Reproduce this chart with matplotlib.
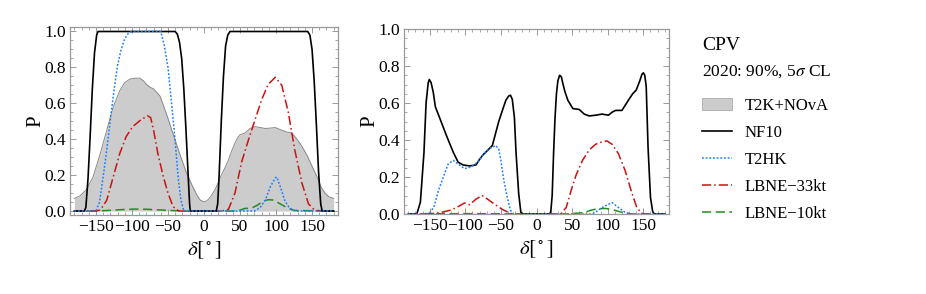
import numpy as np
import matplotlib
matplotlib.use("Agg")
import matplotlib.pyplot as plt
from matplotlib.lines import Line2D
from matplotlib.patches import Patch
from matplotlib.ticker import MultipleLocator

plt.rcParams['font.family'] = ['Liberation Serif', 'DejaVu Serif']
plt.rcParams['mathtext.fontset'] = 'stix'

# ---- panel 1 (2020: 90% CL) ----
gray_d = [-180, -172, -163, -154, -144, -135, -126, -117, -110, -103, -95, -89, -84, -80, -75, -70,
          -61, -52, -43, -33, -24, -15, -10, -5, 0, 3, 6, 10, 15, 20, 24, 29, 34, 38, 43, 47, 50,
          57, 64, 71, 78, 85, 92, 99, 108, 115, 122, 129, 136, 143, 150, 157, 163, 168, 173, 180]
gray_p = [0.07, 0.085, 0.12, 0.19, 0.32, 0.45, 0.58, 0.67, 0.715, 0.735, 0.74, 0.74, 0.725, 0.705, 0.69, 0.68,
          0.64, 0.54, 0.43, 0.31, 0.21, 0.13, 0.09, 0.06, 0.052, 0.055, 0.065, 0.085, 0.117, 0.16, 0.20, 0.24, 0.285, 0.33, 0.38, 0.41, 0.425,
          0.435, 0.46, 0.47, 0.465, 0.46, 0.462, 0.465, 0.45, 0.44, 0.435, 0.40, 0.36, 0.31, 0.25, 0.19, 0.13, 0.10, 0.08, 0.07]

nf_d = [-180, -166, -164, -161, -158, -155, -152, -149, -147, -40, -37, -34, -31, -28, -25, -22, -20, -19,
        17, 19, 21, 24, 27, 30, 33, 36, 144, 147, 150, 153, 156, 159, 162, 164, 180]
nf_p = [0, 0, 0.02, 0.18, 0.42, 0.68, 0.88, 0.98, 1.0, 1.0, 0.985, 0.94, 0.85, 0.68, 0.45, 0.2, 0.04, 0,
        0, 0.04, 0.2, 0.5, 0.75, 0.92, 0.98, 1.0, 1.0, 0.98, 0.9, 0.72, 0.48, 0.22, 0.04, 0, 0]

t2_d = [-180, -150, -145, -140, -135, -130, -125, -120, -115, -110, -105, -100, -60, -55, -50, -45, -40, -36, -32, -28,
        70, 78, 85, 92, 99, 101, 106, 112, 118, 124, 130, 180]
t2_p = [0, 0, 0.05, 0.19, 0.34, 0.51, 0.67, 0.81, 0.9, 0.96, 0.99, 1.0, 1.0, 0.92, 0.8, 0.6, 0.39, 0.19, 0.06, 0,
        0, 0.02, 0.06, 0.135, 0.185, 0.19, 0.135, 0.06, 0.02, 0.005, 0, 0]

l33_d = [-180, -150, -144, -135, -126, -117, -108, -99, -87, -78, -74, -70, -64, -57, -50, -43, -36, -33,
         25, 34, 43, 52, 62, 71, 80, 89, 99, 108, 117, 126, 136, 145, 154, 180]
l33_p = [0, 0, 0.005, 0.06, 0.19, 0.32, 0.415, 0.47, 0.51, 0.53, 0.52, 0.45, 0.32, 0.2, 0.1, 0.025, 0.003, 0,
         0, 0.01, 0.1, 0.27, 0.40, 0.51, 0.62, 0.705, 0.745, 0.70, 0.55, 0.34, 0.155, 0.04, 0.003, 0]

l10_d = [-180, -150, -130, -110, -95, -80, -60, -40, -25, 40, 50, 57, 63, 68, 75, 82, 89, 95, 99, 108, 117, 125, 180]
l10_p = [0, 0, 0.004, 0.009, 0.011, 0.01, 0.006, 0.002, 0, 0, 0.005, 0.015, 0.015, 0.02, 0.035, 0.055, 0.063, 0.062,
         0.055, 0.035, 0.015, 0.003, 0]

# ---- panel 2 (5 sigma CL) ----
r_nf_d = [-180, -168, -163, -158, -155, -152, -150.5, -148, -145, -142, -135, -126, -117, -110, -103, -94, -85, -80,
          -75, -71, -62, -53, -47, -43, -39, -36.5, -34, -31, -28.7, -25, -22, -20,
          18, 20, 22, 24, 26, 28, 30, 32.5, 35, 37, 40, 44, 51, 60, 67, 74, 83, 92, 101, 106, 111, 120, 129, 135,
          140, 145, 148, 150, 152, 154, 156.6, 160, 163, 165, 180]
r_nf_p = [0, 0, 0.064, 0.33, 0.6, 0.71, 0.727, 0.71, 0.66, 0.58, 0.51, 0.42, 0.335, 0.28, 0.265, 0.26, 0.265, 0.295,
          0.32, 0.335, 0.37, 0.5, 0.57, 0.615, 0.638, 0.642, 0.62, 0.52, 0.33, 0.11, 0.01, 0,
          0, 0.01, 0.1, 0.33, 0.52, 0.65, 0.72, 0.75, 0.74, 0.705, 0.66, 0.615, 0.57, 0.565, 0.54, 0.53, 0.534, 0.54,
          0.534, 0.55, 0.56, 0.56, 0.615, 0.65, 0.67, 0.72, 0.755, 0.763, 0.75, 0.69, 0.36, 0.09, 0.015, 0, 0]

r_t2_d = [-180, -151, -144, -137.7, -130.8, -124, -117, -110, -101, -92, -82.5, -73, -66.5, -57, -53, -50, -45.8,
          -41, -36.6, -32, 78, 83, 90, 97, 106, 115, 124, 132, 180]
r_t2_p = [0, 0, 0.037, 0.127, 0.2, 0.27, 0.29, 0.27, 0.245, 0.254, 0.28, 0.33, 0.353, 0.37, 0.35, 0.29, 0.18,
          0.09, 0.02, 0, 0, 0.01, 0.03, 0.045, 0.062, 0.035, 0.01, 0, 0]

r_33_d = [-180, -140, -121.6, -112, -105.5, -101, -94, -85, -76.5, -68.6, -59.6, -48, -36.6, -33,
          30, 34.7, 41.7, 48.6, 55.5, 64.6, 73.8, 83, 92, 99, 106, 115, 124.4, 133.5, 140.4, 147, 152, 180]
r_33_p = [0, 0.003, 0.02, 0.035, 0.05, 0.06, 0.05, 0.08, 0.10, 0.08, 0.055, 0.025, 0.003, 0,
          0, 0.003, 0.035, 0.127, 0.21, 0.29, 0.345, 0.377, 0.39, 0.395, 0.377, 0.326, 0.235, 0.118, 0.04, 0.005, 0, 0]

r_10_d = [-180, -150, -100, -50, -30, 45, 50.8, 60, 67, 76, 85, 97, 106, 117, 129, 135, 180]
r_10_p = [0, 0.001, 0.002, 0.001, 0, 0, 0.003, 0.005, 0.008, 0.02, 0.028, 0.03, 0.025, 0.012, 0.002, 0, 0]

labels = ['T2K+NOvA', 'NF10', 'T2HK', 'LBNE\u221233kt', 'LBNE\u221210kt']

c_gray = '#cccccc'
c_blue = '#1a7fff'
c_red = '#cc1111'
c_green = '#228b22'
frame = '#999999'

sty_nf = dict(color='black', lw=1.2, ls='-')
sty_t2 = dict(color=c_blue, lw=1.1, ls=(0, (1.2, 1.2)))
sty_33 = dict(color=c_red, lw=1.1, ls=(0, (6, 2, 1, 2)))
sty_10 = dict(color=c_green, lw=1.1, ls=(0, (6, 3)))

fig = plt.figure(figsize=(9.26, 2.94), dpi=100)
ax1 = fig.add_axes([70 / 926, 1 - 215 / 294, 268 / 926, 188 / 294])
ax2 = fig.add_axes([404 / 926, 1 - 214 / 294, 265 / 926, 185 / 294])


def style_axis(ax, ylim):
    ax.set_xlim(-186, 186)
    ax.set_ylim(*ylim)
    ax.xaxis.set_major_locator(MultipleLocator(50))
    ax.xaxis.set_minor_locator(MultipleLocator(10))
    ax.yaxis.set_major_locator(MultipleLocator(0.2))
    ax.yaxis.set_minor_locator(MultipleLocator(0.05))
    ax.set_xticks([-150, -100, -50, 0, 50, 100, 150])
    ax.set_xticklabels(['\u2212150', '\u2212100', '\u221250', '0', '50', '100', '150'])
    ax.set_yticks([0, 0.2, 0.4, 0.6, 0.8, 1.0])
    ax.set_yticklabels(['0.0', '0.2', '0.4', '0.6', '0.8', '1.0'])
    ax.tick_params(which='both', direction='in', top=True, right=True, color=frame, labelsize=12.5,
                   labelcolor='black', pad=3)
    ax.tick_params(which='major', length=4, width=0.7)
    ax.tick_params(which='minor', length=2, width=0.6)
    for s in ax.spines.values():
        s.set_color(frame)
        s.set_linewidth(0.9)
    ax.set_xlabel(r'$\delta[^\circ]$', fontsize=15, labelpad=3)
    ax.set_ylabel('P', fontsize=15, labelpad=-1)


ax1.fill_between(gray_d, 0, gray_p, color=c_gray, lw=0)
ax1.plot(gray_d, gray_p, color='#888888', lw=0.7)
ax1.plot(l10_d, l10_p, **sty_10)
ax1.plot(l33_d, l33_p, **sty_33)
ax1.plot(nf_d, nf_p, **sty_nf)
ax1.plot(t2_d, t2_p, **sty_t2)
style_axis(ax1, (-0.022, 1.025))

ax2.plot(r_10_d, r_10_p, **sty_10)
ax2.plot(r_33_d, r_33_p, **sty_33)
ax2.plot(r_nf_d, r_nf_p, **sty_nf)
ax2.plot(r_t2_d, r_t2_p, **sty_t2)
style_axis(ax2, (0, 1.0))

fig.text(702 / 926, 1 - 45 / 294, 'CPV', fontsize=14, va='center', ha='left')
fig.text(702 / 926, 1 - 72 / 294, r'2020: 90%, 5$\sigma$ CL', fontsize=12.5, va='center', ha='left')

handles = [Patch(facecolor=c_gray, edgecolor='#aaaaaa', lw=0.6),
           Line2D([], [], **sty_nf), Line2D([], [], **sty_t2),
           Line2D([], [], **sty_33), Line2D([], [], **sty_10)]
fig.legend(handles, labels, loc='upper left', bbox_to_anchor=(702 / 926, 1 - 98 / 294),
           frameon=False, fontsize=12, handlelength=1.8, handletextpad=0.75, labelspacing=0.66,
           borderpad=0, borderaxespad=0)

fig.savefig('out.png', dpi=100)
